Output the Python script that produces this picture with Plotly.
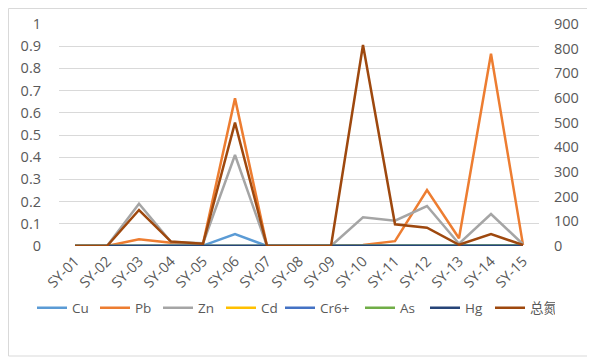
import plotly.graph_objects as go

categories = ["SY-01", "SY-02", "SY-03", "SY-04", "SY-05", "SY-06", "SY-07", "SY-08",
              "SY-09", "SY-10", "SY-11", "SY-12", "SY-13", "SY-14", "SY-15"]

cu = [0, 0, 0.003, 0.002, 0.002, 0.054, 0, 0, 0, 0.002, 0.002, 0.003, 0.002, 0.002, 0.002]
pb = [0, 0, 0.03, 0.015, 0.01, 0.665, 0, 0, 0, 0.005, 0.022, 0.252, 0.035, 0.866, 0.005]
zn = [0, 0, 0.19, 0.018, 0.012, 0.41, 0, 0, 0, 0.129, 0.114, 0.18, 0.01, 0.144, 0.008]
cd = [0, 0, 0.001, 0.001, 0.001, 0.002, 0, 0, 0, 0.001, 0.001, 0.001, 0.001, 0.001, 0.001]
cr6 = [0, 0, 0.002, 0.002, 0.002, 0.002, 0, 0, 0, 0.002, 0.002, 0.002, 0.002, 0.002, 0.002]
as_ = [0, 0, 0.001, 0.001, 0.001, 0.001, 0, 0, 0, 0.001, 0.001, 0.001, 0.001, 0.001, 0.001]
hg = [0, 0, 0.0005, 0.0005, 0.0005, 0.0005, 0, 0, 0, 0.0005, 0.0005, 0.0005, 0.0005, 0.0005, 0.0005]
total_n = [0, 0, 146, 18, 9, 500, 0, 0, 0, 815, 88, 74, 5, 48, 4]

left_ticks = [0, 0.1, 0.2, 0.3, 0.4, 0.5, 0.6, 0.7, 0.8, 0.9, 1]
left_labels = ["0", "0.1", "0.2", "0.3", "0.4", "0.5", "0.6", "0.7", "0.8", "0.9", "1"]
right_ticks = [0, 100, 200, 300, 400, 500, 600, 700, 800, 900]

series = [
    ("Cu", cu, "#5B9BD5", "legend"),
    ("Pb", pb, "#ED7D31", "legend"),
    ("Zn", zn, "#A5A5A5", "legend"),
    ("Cd", cd, "#FFC000", "legend"),
    ("Cr6+", cr6, "#4472C4", "legend3"),
    ("As", as_, "#70AD47", "legend2"),
    ("Hg", hg, "#264478", "legend2"),
]

fig = go.Figure()
for name, vals, color, lg in series:
    fig.add_trace(go.Scatter(x=categories, y=vals, name=name, mode="lines", legend=lg,
                             line=dict(color=color, width=2.5)))
fig.add_trace(go.Scatter(x=categories, y=total_n, name="总氮", mode="lines", yaxis="y2",
                         legend="legend2", line=dict(color="#9E480E", width=2.5)))

W, H = 587, 353
L, T, PW, PH = 51, 16, 480, 222
R = W - L - PW
B = H - T - PH

font_family = "Open Sans, Noto Sans CJK SC, sans-serif"
legend_common = dict(orientation="h", xanchor="left", y=-62 / PH, yanchor="middle",
                     font=dict(size=13.5, color="#595959"), itemwidth=30,
                     entrywidthmode="pixels", tracegroupgap=0,
                     bgcolor="rgba(0,0,0,0)")
fig.update_layout(
    width=W, height=H,
    margin=dict(l=L, r=R, t=T, b=B, autoexpand=False),
    paper_bgcolor="white", plot_bgcolor="white",
    font=dict(family=font_family, size=14, color="#595959"),
    showlegend=True,
    legend=dict(x=-27 / PW, entrywidth=18, **legend_common),
    legend3=dict(x=221 / PW, entrywidth=40, **legend_common),
    legend2=dict(x=301 / PW, entrywidth=20, **legend_common),
    xaxis=dict(type="category", range=[-0.5, 14.5], tickangle=-45, showgrid=False,
               showline=False, ticks="", tickfont=dict(size=14.5), ticklabelstandoff=3,
               automargin=False),
    yaxis=dict(range=[0, 1], tickvals=left_ticks, ticktext=left_labels, showgrid=True,
               gridcolor="#D9D9D9", gridwidth=1, zeroline=False, showline=False,
               ticks="", tickfont=dict(size=14.5), ticklabelstandoff=17, automargin=False),
    yaxis2=dict(range=[0, 900], tickvals=right_ticks, overlaying="y", side="right",
                showgrid=False, zeroline=False, showline=False, ticks="",
                tickfont=dict(size=14.5), ticklabelstandoff=14, automargin=False),
    shapes=[dict(type="rect", xref="paper", yref="paper",
                 x0=(0.5 - L) / PW, x1=1 + (582 - L - PW) / PW,
                 y0=-(348 - T - PH) / PH, y1=1 + (T - 0.5) / PH,
                 line=dict(color="#D9D9D9", width=1), fillcolor="rgba(0,0,0,0)",
                 layer="below")],
)

fig.write_html("out.html")
